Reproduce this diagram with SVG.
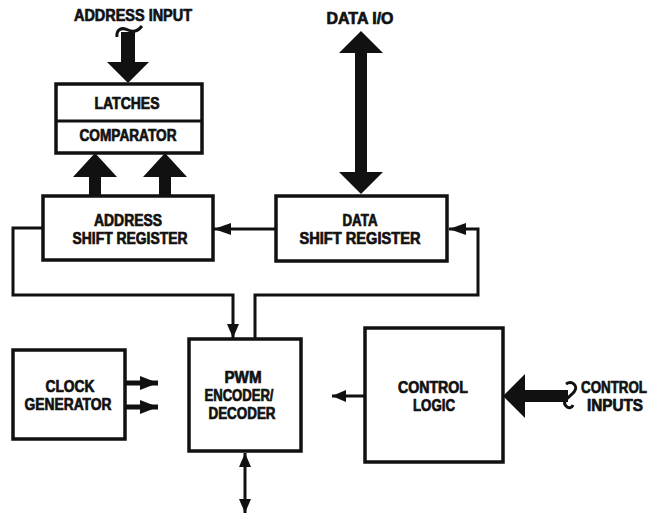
<svg xmlns="http://www.w3.org/2000/svg" width="654" height="515" viewBox="0 0 654 515">
<defs>
<style>
.box{fill:none;stroke:#111;stroke-width:3.5}
.ln{fill:none;stroke:#111;stroke-width:3}
.fat{fill:#111;stroke:none}
.t{font-family:"Liberation Sans",Arial,sans-serif;font-weight:bold;font-size:16px;fill:#111;stroke:#111;stroke-width:0.7;text-anchor:middle}
</style>
<marker id="ah" markerUnits="userSpaceOnUse" markerWidth="18" markerHeight="12" refX="17" refY="6" orient="auto">
<path d="M0,0 L17,6 L0,12 z" fill="#111"/>
</marker>
<marker id="ahc" markerUnits="userSpaceOnUse" markerWidth="19" markerHeight="14" refX="18" refY="7" orient="auto">
<path d="M0,0 L18,7 L0,14 z" fill="#111"/>
</marker>
<marker id="ahv" markerUnits="userSpaceOnUse" markerWidth="15" markerHeight="12" refX="14" refY="6" orient="auto-start-reverse">
<path d="M0,0 L14,6 L0,12 z" fill="#111"/>
</marker>
</defs>
<rect width="654" height="515" fill="#fff"/>

<g id="address-input">
<text class="t" x="133" y="21" textLength="118" lengthAdjust="spacingAndGlyphs">ADDRESS INPUT</text>
<path class="ln" d="M117,37 C116,29 122,27 128,30 C134,33 138,31 142,26"/>
<polygon class="fat" points="121,32 135,32 135,62 149,62 128,83 107,62 121,62"/>
</g>

<g id="data-io">
<text class="t" x="360" y="24" textLength="67" lengthAdjust="spacingAndGlyphs">DATA I/O</text>
<polygon class="fat" points="361,31 383,53 367,53 367,172 383,172 361,194 339,172 355,172 355,53 339,53"/>
</g>

<g id="latches-comparator">
<rect class="box" x="56" y="84" width="146" height="69"/>
<line class="ln" x1="56" y1="121" x2="202" y2="121"/>
<text class="t" x="127" y="109" textLength="65" lengthAdjust="spacingAndGlyphs">LATCHES</text>
<text class="t" x="128" y="141" textLength="97" lengthAdjust="spacingAndGlyphs">COMPARATOR</text>
</g>

<g id="bus-arrows">
<polygon class="fat" points="95,153 117,177 101,177 101,195 89,195 89,177 73,177"/>
<polygon class="fat" points="165,153 187,177 171,177 171,195 159,195 159,177 143,177"/>
</g>

<g id="address-shift-register">
<rect class="box" x="43" y="196" width="170" height="64"/>
<text class="t" x="128" y="226" textLength="68" lengthAdjust="spacingAndGlyphs">ADDRESS</text>
<text class="t" x="130" y="244" textLength="115" lengthAdjust="spacingAndGlyphs">SHIFT REGISTER</text>
</g>

<g id="data-shift-register">
<rect class="box" x="276" y="196" width="171" height="65"/>
<text class="t" x="360" y="226" textLength="35" lengthAdjust="spacingAndGlyphs">DATA</text>
<text class="t" x="360" y="244" textLength="121" lengthAdjust="spacingAndGlyphs">SHIFT REGISTER</text>
</g>

<g id="clock-generator">
<rect class="box" x="13" y="350" width="112" height="89"/>
<text class="t" x="70" y="392" textLength="49" lengthAdjust="spacingAndGlyphs">CLOCK</text>
<text class="t" x="68" y="410" textLength="87" lengthAdjust="spacingAndGlyphs">GENERATOR</text>
</g>

<g id="pwm-encoder-decoder">
<rect class="box" x="189" y="339" width="112" height="112"/>
<text class="t" x="243" y="383" textLength="37" lengthAdjust="spacingAndGlyphs">PWM</text>
<text class="t" x="239" y="401" textLength="69" lengthAdjust="spacingAndGlyphs">ENCODER/</text>
<text class="t" x="242" y="419" textLength="67" lengthAdjust="spacingAndGlyphs">DECODER</text>
</g>

<g id="control-logic">
<rect class="box" x="365" y="328" width="138" height="134"/>
<text class="t" x="433" y="393" textLength="70" lengthAdjust="spacingAndGlyphs">CONTROL</text>
<text class="t" x="434" y="411" textLength="42" lengthAdjust="spacingAndGlyphs">LOGIC</text>
</g>

<g id="control-inputs">
<text class="t" x="614" y="393" textLength="66" lengthAdjust="spacingAndGlyphs">CONTROL</text>
<text class="t" x="615" y="411" textLength="56" lengthAdjust="spacingAndGlyphs">INPUTS</text>
<polygon class="fat" points="503,396 525,374 525,390 568,390 568,402 525,402 525,418"/>
<path class="ln" d="M566,384 C572,380 579,386 574,392 C570,397 561,401 566,406 C568,409 572,408 573,405"/>
</g>

<g id="connectors">
<line class="ln" x1="276" y1="229" x2="214" y2="229" marker-end="url(#ah)"/>
<polyline class="ln" points="43,228 13,228 13,295 233,295 233,338" marker-end="url(#ahv)"/>
<polyline class="ln" points="255,338 255,295 478,295 478,229 449,229" marker-end="url(#ah)"/>
<line stroke="#111" stroke-width="5" x1="125" y1="383" x2="158" y2="383" marker-end="url(#ahc)"/>
<line stroke="#111" stroke-width="5" x1="125" y1="407" x2="158" y2="407" marker-end="url(#ahc)"/>
<line class="ln" x1="365" y1="396" x2="332" y2="396" marker-end="url(#ahv)"/>
<line class="ln" x1="245" y1="453" x2="245" y2="513" marker-start="url(#ahv)" marker-end="url(#ahv)"/>
</g>
</svg>
